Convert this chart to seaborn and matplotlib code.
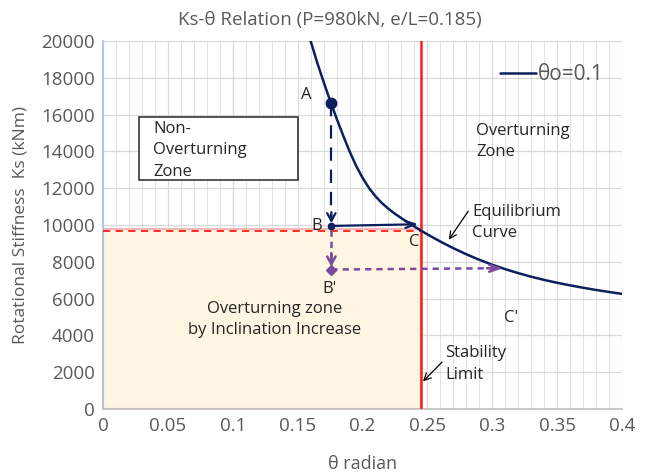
import numpy as np
import pandas as pd
import matplotlib
matplotlib.use("Agg")
import matplotlib.pyplot as plt
from matplotlib.patches import Rectangle
from matplotlib.ticker import MultipleLocator
import seaborn as sns

# Equilibrium curve Ks(θ) for θo = 0.1
theta_curve = [0.155, 0.160, 0.165, 0.170, 0.175, 0.180, 0.185, 0.190, 0.195, 0.200,
               0.205, 0.210, 0.215, 0.220, 0.225, 0.230, 0.235, 0.240, 0.245, 0.250,
               0.260, 0.270, 0.280, 0.290, 0.300, 0.310, 0.320, 0.330, 0.340, 0.350,
               0.360, 0.370, 0.380, 0.390, 0.400]
ks_curve = [21200, 20000, 18850, 17780, 16760, 15800, 14880, 14010, 13230, 12570,
            12010, 11560, 11190, 10880, 10610, 10370, 10140, 9920, 9700, 9490,
            9100, 8740, 8410, 8110, 7840, 7600, 7385, 7190, 7015, 6860,
            6720, 6590, 6470, 6360, 6255]
series_label = "θo=0.1"

# Stability limit and equilibrium stiffness at C
theta_limit = 0.245
ks_limit = 9650
ks_zone_top = 9780

# Loading path points
point_A = (0.176, 16650)
point_B = (0.176, 9950)
point_C_tip = (0.243, 10040)
point_B2 = (0.176, 7580)
point_C2_tip = (0.308, 7650)

x_ticks = [0, 0.05, 0.1, 0.15, 0.2, 0.25, 0.3, 0.35, 0.4]
x_tick_labels = ["0", "0.05", "0.1", "0.15", "0.2", "0.25", "0.3", "0.35", "0.4"]
y_ticks = list(range(0, 20001, 2000))

title = "Ks-θ Relation (P=980kN, e/L=0.185)"
x_label = "θ radian"
y_label = "Rotational Stiffness  Ks (kNm)"

NAVY = "#0B1F5E"
PURPLE = "#7B4A9E"
RED = "#FF1A1A"
GRAY_TXT = "#595959"
DARK_TXT = "#262626"

sns.set_style("white")
plt.rcParams["font.family"] = ["Open Sans", "DejaVu Sans"]

fig = plt.figure(figsize=(6.49, 4.74), dpi=100)
ax = fig.add_axes([103 / 649, 1 - 409 / 474, 519 / 649, 368 / 474])

# grid
ax.set_xlim(0, 0.4)
ax.set_ylim(0, 20000)
ax.xaxis.set_minor_locator(MultipleLocator(0.01))
ax.set_xticks(x_ticks)
ax.set_xticklabels(x_tick_labels)
ax.set_yticks(y_ticks)
ax.grid(which="major", color="#D9D9D9", lw=0.9)
ax.grid(which="minor", axis="x", color="#E3E3E3", lw=0.8)
ax.set_axisbelow(True)
ax.tick_params(which="both", length=0, labelsize=13.5, colors=GRAY_TXT, pad=6)
for side in ("top", "right"):
    ax.spines[side].set_visible(False)
ax.spines["left"].set_color("#9DC3E6")
ax.spines["left"].set_linewidth(1.2)
ax.spines["bottom"].set_color("#BFBFBF")
ax.spines["bottom"].set_linewidth(1.2)

# overturning zone by inclination increase
ax.add_patch(Rectangle((0, 0), theta_limit, ks_zone_top, facecolor="#FEF5E2",
                       edgecolor="#F2B8B8", lw=1.5, zorder=1))

# red dashed level line and stability limit
ax.plot([0, theta_limit], [ks_limit, ks_limit], color=RED, lw=1.3, ls=(0, (4, 3)), zorder=3)
ax.axvline(theta_limit, color=RED, lw=1.8, zorder=3)

# equilibrium curve
df = pd.DataFrame({"theta": theta_curve, "Ks": ks_curve})
sns.lineplot(data=df, x="theta", y="Ks", ax=ax, color=NAVY, lw=1.8, sort=False,
             label=series_label, zorder=4)

# A -> B dashed path
ax.plot([point_A[0], point_B[0]], [point_A[1], point_B[1] + 300], color=NAVY, lw=1.6,
        ls=(0, (6, 4)), zorder=5)
ax.annotate("", xy=point_B, xytext=(point_B[0], point_B[1] + 900),
            arrowprops=dict(arrowstyle="->,head_length=0.55,head_width=0.3", color=NAVY, lw=1.6),
            zorder=5)
ax.plot(*point_A, marker="o", ms=7.5, color=NAVY, zorder=6)
ax.plot(*point_B, marker="o", ms=4.5, color=NAVY, zorder=6)

# B -> C solid arrow
ax.annotate("", xy=point_C_tip, xytext=point_B,
            arrowprops=dict(arrowstyle="->,head_length=0.7,head_width=0.25", color=NAVY, lw=1.6,
                            shrinkA=0, shrinkB=0), zorder=5)

# B -> B' and B' -> C' dotted purple paths
ax.plot([point_B[0], point_B2[0]], [point_B[1] - 200, point_B2[1] + 300], color=PURPLE, lw=1.8,
        ls=(0, (2.5, 2)), zorder=5)
ax.annotate("", xy=(point_B2[0], point_B2[1] + 150), xytext=(point_B2[0], point_B2[1] + 900),
            arrowprops=dict(arrowstyle="->,head_length=0.55,head_width=0.3", color=PURPLE, lw=1.8,
                            shrinkA=0, shrinkB=0), zorder=5)
ax.plot([point_B2[0], point_C2_tip[0] - 0.004], [point_B2[1], point_C2_tip[1]], color=PURPLE,
        lw=1.8, ls=(0, (2.5, 2)), zorder=5)
ax.annotate("", xy=point_C2_tip, xytext=(point_C2_tip[0] - 0.012, point_C2_tip[1]),
            arrowprops=dict(arrowstyle="->,head_length=0.7,head_width=0.25", color=PURPLE, lw=1.8,
                            shrinkA=0, shrinkB=0), zorder=5)
ax.plot(*point_B2, marker="D", ms=5.5, color=PURPLE, zorder=6)

# point labels
lab = dict(fontsize=12, color=DARK_TXT, ha="center", va="center", zorder=7)
ax.text(0.1565, 17050, "A", **lab)
ax.text(0.1645, 9950, "B", **lab)
ax.text(0.2395, 9100, "C", **lab)
ax.text(0.1745, 6500, "B'", **lab)
ax.text(0.3145, 4950, "C'", **lab)

# zone annotations
txt = dict(fontsize=12, color=DARK_TXT, linespacing=1.45, zorder=7)
ax.add_patch(Rectangle((0.0277, 12450), 0.150 - 0.0277, 15870 - 12450, facecolor="white",
                       edgecolor="#262626", lw=1.1, zorder=6))
ax.text(0.0385, 14050, "Non-\nOverturning\nZone", ha="left", va="center", **txt)
ax.text(0.2875, 14550, "Overturning\nZone", ha="left", va="center", **txt)
ax.text(0.1325, 4850, "Overturning zone\nby Inclination Increase", ha="center", va="center", **txt)
ax.text(0.2844, 10150, "Equilibrium\nCurve", ha="left", va="center", **txt)
ax.text(0.2636, 2450, "Stability\nLimit", ha="left", va="center", **txt)

thin = dict(arrowstyle="->,head_length=0.5,head_width=0.25", color="black", lw=0.9,
            shrinkA=0, shrinkB=0)
ax.annotate("", xy=(0.2665, 9200), xytext=(0.2815, 10750), arrowprops=thin, zorder=7)
ax.annotate("", xy=(0.2466, 1500), xytext=(0.2613, 2550), arrowprops=thin, zorder=7)

# legend, axis labels, title
leg = ax.legend(loc="upper right", bbox_to_anchor=(0.993, 0.976), frameon=False, fontsize=15,
                handlelength=1.7, handletextpad=0.1, borderpad=0.2)
for t in leg.get_texts():
    t.set_color(GRAY_TXT)
ax.set_xlabel(x_label, fontsize=13, color=GRAY_TXT, labelpad=14)
ax.set_ylabel(y_label, fontsize=12.5, color=GRAY_TXT, labelpad=9)
fig.text(330 / 649, 1 - 20 / 474, title, ha="center", va="center", fontsize=13.5, color=GRAY_TXT)

fig.savefig("out.png", dpi=100)
